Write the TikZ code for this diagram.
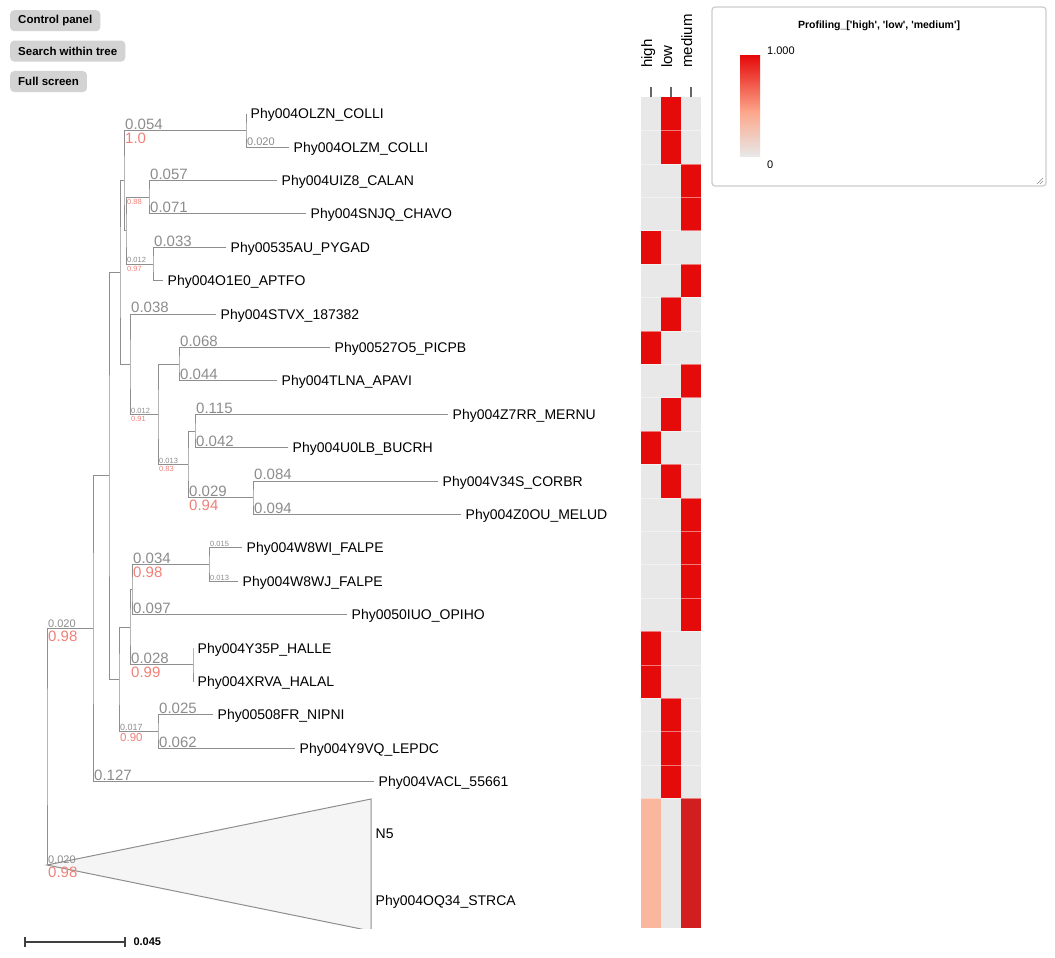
\documentclass[tikz,border=0pt]{standalone}
\usepackage{fontspec}
\setmainfont{Liberation Sans}
\usetikzlibrary{positioning}
\definecolor{treegray}{HTML}{8E8E8E}
\definecolor{lengray}{HTML}{8C8C8C}
\definecolor{suppred}{HTML}{F08078}
\definecolor{cellred}{HTML}{E60B0B}
\definecolor{cellgray}{HTML}{E8E8E8}
\definecolor{cellsalmon}{HTML}{FBB79D}
\definecolor{barsalmon}{HTML}{FCA68A}
\definecolor{celldark}{HTML}{D11E1E}
\definecolor{btngray}{HTML}{D3D3D3}
\definecolor{legborder}{HTML}{CCCCCC}
\definecolor{collapsefill}{HTML}{F5F5F5}
\newcommand{\pxsize}[1]{\fontsize{#1}{#1}\selectfont}

\begin{document}
\begin{tikzpicture}[x=1pt, y=-1pt]
    % Define styles
    \tikzstyle{branch} = [draw=treegray, line width=1pt]
    \tikzstyle{leaf} = [anchor=west, inner xsep=4.5pt, inner ysep=0pt, text height=10pt, text depth=0pt, font=\pxsize{14}]
    \tikzstyle{blen} = [anchor=south west, inner xsep=1pt, inner ysep=0.8pt, text=lengray]
    \tikzstyle{supp} = [anchor=north west, inner xsep=1pt, inner ysep=2pt, text=suppred]
    \tikzstyle{lbig} = [font=\pxsize{15}]
    \tikzstyle{lmid} = [font=\pxsize{11}]
    \tikzstyle{ltiny} = [font=\pxsize{7.5}]
    \tikzstyle{button} = [rectangle, fill=btngray, rounded corners=4pt, inner xsep=8pt, minimum height=21pt, font=\bfseries\pxsize{11.5}]
    \tikzstyle{collabel} = [rotate=90, anchor=base west, inner sep=0pt, font=\pxsize{15}]
    \tikzstyle{tick} = [draw=black!60, line width=1.5pt]
    \useasboundingbox (0,0) rectangle (1055,958);

    % Buttons
    \node[button, anchor=north west] (ctrl) at (10,10) {Control panel};
    \node[button, below=9pt of ctrl.south west, anchor=north west] (search) {Search within tree};
    \node[button, below=9pt of search.south west, anchor=north west] (full) {Full screen};

    % Leaves
    \node[leaf] (lOLZN) at (246,113.7) {Phy004OLZN\_COLLI};
    \node[leaf] (lOLZM) at (289,147.1) {Phy004OLZM\_COLLI};
    \node[leaf] (lUIZ8) at (277,180.5) {Phy004UIZ8\_CALAN};
    \node[leaf] (lSNJQ) at (306,213.9) {Phy004SNJQ\_CHAVO};
    \node[leaf] (l535AU) at (226,247.3) {Phy00535AU\_PYGAD};
    \node[leaf] (lO1E0) at (163,280.7) {Phy004O1E0\_APTFO};
    \node[leaf] (lSTVX) at (216,314.1) {Phy004STVX\_187382};
    \node[leaf] (lPICPB) at (330,347.5) {Phy00527O5\_PICPB};
    \node[leaf] (lTLNA) at (277,380.9) {Phy004TLNA\_APAVI};
    \node[leaf] (lMERNU) at (448,414.3) {Phy004Z7RR\_MERNU};
    \node[leaf] (lBUCRH) at (288,447.7) {Phy004U0LB\_BUCRH};
    \node[leaf] (lV34S) at (438,481.1) {Phy004V34S\_CORBR};
    \node[leaf] (lZ0OU) at (461,514.5) {Phy004Z0OU\_MELUD};
    \node[leaf] (lW8WI) at (242,547.9) {Phy004W8WI\_FALPE};
    \node[leaf] (lW8WJ) at (238,581.3) {Phy004W8WJ\_FALPE};
    \node[leaf] (lOPIHO) at (347,614.7) {Phy0050IUO\_OPIHO};
    \node[leaf] (lY35P) at (193,648.1) {Phy004Y35P\_HALLE};
    \node[leaf] (lXRVA) at (193,681.5) {Phy004XRVA\_HALAL};
    \node[leaf] (l508FR) at (213,714.9) {Phy00508FR\_NIPNI};
    \node[leaf] (lY9VQ) at (295,748.3) {Phy004Y9VQ\_LEPDC};
    \node[leaf] (lVACL) at (374,781.7) {Phy004VACL\_55661};
    \node[leaf] (lN5) at (371,833) {N5};
    \node[leaf] (lSTRCA) at (371,900) {Phy004OQ34\_STRCA};

    % Inner nodes
    \coordinate (nA) at (246,130.4);
    \coordinate (nB) at (149,197.2);
    \coordinate (nC) at (153,264.0);
    \coordinate (nBC) at (126,230.6);
    \coordinate (nABC) at (124,180.5);
    \coordinate (nF) at (179,364.2);
    \coordinate (nH) at (195,431.0);
    \coordinate (nI) at (253,497.8);
    \coordinate (nG) at (188,464.4);
    \coordinate (nE) at (158,414.3);
    \coordinate (nD) at (130,364.2);
    \coordinate (nT) at (120,272.35);
    \coordinate (nS) at (209,564.6);
    \coordinate (nQ) at (132,589.65);
    \coordinate (nR) at (193,664.8);
    \coordinate (nN) at (130,627.2);
    \coordinate (nO) at (158,731.6);
    \coordinate (nK) at (119,679.4);
    \coordinate (nJ) at (109,475.9);
    \coordinate (nL) at (93,628.8);
    \coordinate (nX) at (47,865);
    \coordinate (nM) at (47,746.9);
    \coordinate (xtop) at (371,799);
    \coordinate (xbot) at (371,931);

    % Branches
    \draw[branch] (lOLZN.west) -| (nA) |- (lOLZM.west);
    \draw[branch] (lUIZ8.west) -| (nB) |- (lSNJQ.west);
    \draw[branch] (l535AU.west) -| (nC) |- (lO1E0.west);
    \draw[branch] (nB) -| (nBC) |- (nC);
    \draw[branch] (nA) -| (nABC) |- (nBC);
    \draw[branch] (lPICPB.west) -| (nF) |- (lTLNA.west);
    \draw[branch] (lMERNU.west) -| (nH) |- (lBUCRH.west);
    \draw[branch] (lV34S.west) -| (nI) |- (lZ0OU.west);
    \draw[branch] (nH) -| (nG) |- (nI);
    \draw[branch] (nF) -| (nE) |- (nG);
    \draw[branch] (lSTVX.west) -| (nD) |- (nE);
    \draw[branch] (nABC) -| (nT) |- (nD);
    \draw[branch] (lW8WI.west) -| (nS) |- (lW8WJ.west);
    \draw[branch] (nS) -| (nQ) |- (lOPIHO.west);
    \draw[branch] (lY35P.west) -| (nR) |- (lXRVA.west);
    \draw[branch] (nQ) -| (nN) |- (nR);
    \draw[branch] (l508FR.west) -| (nO) |- (lY9VQ.west);
    \draw[branch] (nN) -| (nK) |- (nO);
    \draw[branch] (nT) -| (nJ) |- (nK);
    \draw[branch] (nJ) -| (nL) |- (lVACL.west);
    \draw[branch] (nL) -| (nM) |- (nX);
    \begin{scope}
        \clip (0,0) rectangle (1055,928);
        \draw[branch, fill=collapsefill] (nX) -- (xtop) -- (xbot) -- cycle;
    \end{scope}

    % Branch lengths and supports
    \node[blen, lbig] (bA) at (nABC |- nA) {0.054};
    \node[supp, lbig] (sA) at (nABC |- nA) {1.0};
    \node[blen, lmid] (bOLZM) at (nA |- lOLZM.west) {0.020};
    \node[supp, ltiny] (sB) at (nBC |- nB) {0.88};
    \node[blen, ltiny] (bC) at (nBC |- nC) {0.012};
    \node[supp, ltiny] (sC) at (nBC |- nC) {0.97};
    \node[blen, lbig] (bUIZ8) at (nB |- lUIZ8.west) {0.057};
    \node[blen, lbig] (bSNJQ) at (nB |- lSNJQ.west) {0.071};
    \node[blen, lbig] (b535AU) at (nC |- l535AU.west) {0.033};
    \node[blen, lbig] (bSTVX) at (nD |- lSTVX.west) {0.038};
    \node[blen, ltiny] (bE) at (nD |- nE) {0.012};
    \node[supp, ltiny] (sE) at (nD |- nE) {0.91};
    \node[blen, lbig] (bPICPB) at (nF |- lPICPB.west) {0.068};
    \node[blen, lbig] (bTLNA) at (nF |- lTLNA.west) {0.044};
    \node[blen, ltiny] (bG) at (nE |- nG) {0.013};
    \node[supp, ltiny] (sG) at (nE |- nG) {0.83};
    \node[blen, lbig] (bMERNU) at (nH |- lMERNU.west) {0.115};
    \node[blen, lbig] (bBUCRH) at (nH |- lBUCRH.west) {0.042};
    \node[blen, lbig] (bI) at (nG |- nI) {0.029};
    \node[supp, lbig] (sI) at (nG |- nI) {0.94};
    \node[blen, lbig] (bV34S) at (nI |- lV34S.west) {0.084};
    \node[blen, lbig] (bZ0OU) at (nI |- lZ0OU.west) {0.094};
    \node[blen, lbig] (bS) at (nQ |- nS) {0.034};
    \node[supp, lbig] (sS) at (nQ |- nS) {0.98};
    \node[blen, ltiny] (bW8WI) at (nS |- lW8WI.west) {0.015};
    \node[blen, ltiny] (bW8WJ) at (nS |- lW8WJ.west) {0.013};
    \node[blen, lbig] (bOPIHO) at (nQ |- lOPIHO.west) {0.097};
    \node[blen, lbig] (bR) at (nN |- nR) {0.028};
    \node[supp, lbig] (sR) at (nN |- nR) {0.99};
    \node[blen, font=\pxsize{9}] (bO) at (nK |- nO) {0.017};
    \node[supp, font=\pxsize{11.5}] (sO) at (nK |- nO) {0.90};
    \node[blen, lbig] (b508FR) at (nO |- l508FR.west) {0.025};
    \node[blen, lbig] (bY9VQ) at (nO |- lY9VQ.west) {0.062};
    \node[blen, lbig] (bVACL) at (nL |- lVACL.west) {0.127};
    \node[blen, lmid] (bL) at (nM |- nL) {0.020};
    \node[supp, lbig] (sL) at (nM |- nL) {0.98};
    \node[blen, lmid] (bX) at (nX) {0.020};
    \node[supp, lbig] (sX) at (nX) {0.98};

    % Heatmap
    \fill[cellgray] (641,97) rectangle (701,928);
    \foreach \c [count=\r from 0] in {2,2,3,3,1,3,2,1,3,2,1,2,3,3,3,3,1,1,2,2,2}
        \fill[cellred] ({621+20*\c},{97+33.4*\r}) rectangle ++(20,33.4);
    \fill[cellsalmon] (641,798.4) rectangle (661,928);
    \fill[celldark] (681,798.4) rectangle (701,928);
    \foreach \r in {1,...,21}
        \draw[white, opacity=0.45, line width=0.6pt] (641,{97+33.4*\r}) -- (701,{97+33.4*\r});
    \foreach \x/\t in {651/high, 671/low, 691/medium} {
        \draw[tick] (\x,87) -- (\x,97);
        \node[collabel] (col\t) at (\x+1,68) {\t};
    }

    % Legend
    \draw[draw=legborder, fill=white, line width=1.2pt, rounded corners=3pt] (712,7) rectangle (1046,186);
    \node[font=\bfseries\pxsize{10.5}] (legtitle) at (879,26) {Profiling\_[\textquotesingle high\textquotesingle, \textquotesingle low\textquotesingle, \textquotesingle medium\textquotesingle]};
    \shade[top color=cellred, bottom color=barsalmon] (740,56) rectangle (760,112);
    \shade[top color=barsalmon, bottom color=cellgray] (740,111.5) rectangle (760,156);
    \node[anchor=west, inner sep=2pt, font=\pxsize{11}] (legmax) at (765,51) {1.000};
    \node[anchor=west, inner sep=2pt, font=\pxsize{11}] (legmin) at (765,165) {0};
    \draw[black!45, line width=0.6pt] (1043,178) -- (1037,184) (1043,181) -- (1040,184);

    % Scale bar
    \draw[black!75, line width=1.8pt] (25,937) -- (25,947) (25,942) -- (125,942) (125,937) -- (125,947);
    \node[anchor=west, font=\bfseries\pxsize{11}] (scale) at (130,942) {0.045};
\end{tikzpicture}
\end{document}
